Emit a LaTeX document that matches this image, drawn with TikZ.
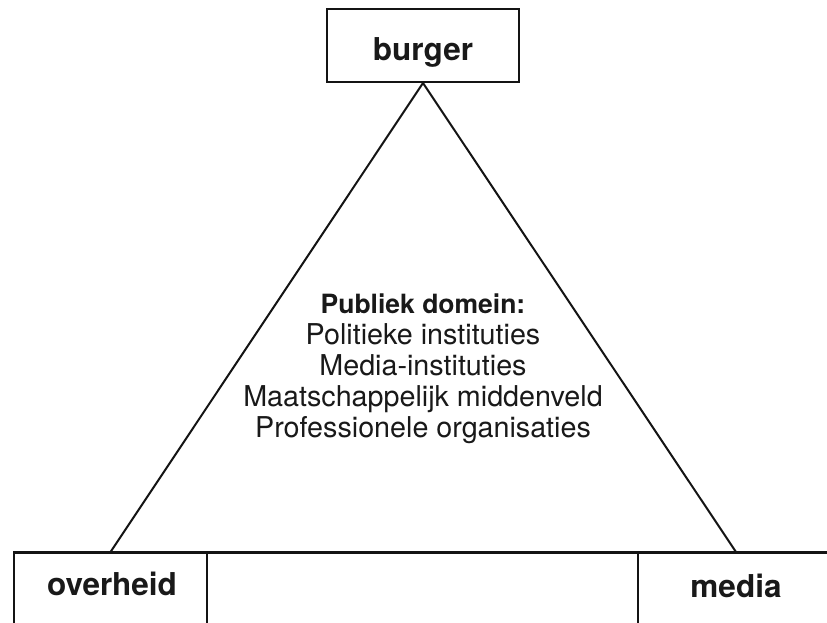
\documentclass[tikz,border=0pt]{standalone}
\usepackage{fontspec}
\setmainfont{TeX Gyre Heros}
\begin{document}
\begin{tikzpicture}[x=1pt,y=-1pt,
  frame/.style={draw=black!92, line width=2pt, inner sep=0pt},
  biglabel/.style={font=\fontsize{31.5}{36}\selectfont\bfseries, text=black!90, inner sep=0pt, anchor=base},
  body/.style={font=\fontsize{28.7}{31}\selectfont, text=black!90, align=center, inner sep=0pt},
  edge/.style={draw=black!92, line width=2pt}]
\useasboundingbox (0,0) rectangle (827,622);
\clip (0,0) rectangle (827,622);
% top box
\node[frame, minimum width=192pt, minimum height=73pt] (burger) at (423,45.5) {};
\node[biglabel] (burgerlbl) at (423,60) {burger};
% bottom boxes
\node[frame, minimum width=193pt, minimum height=120pt, anchor=north] (overheid) at (110.5,552) {};
\node[biglabel] (overheidlbl) at (112,595) {overheid};
\node[frame, minimum width=196pt, minimum height=120pt, anchor=north] (media) at (736,552) {};
\node[biglabel] (medialbl) at (736,597) {media};
% base line
\draw[edge, line width=3pt] (overheid.north west) -- (media.north east);
% triangle
\draw[edge] (overheid.north) -- (burger.south) -- (media.north);
% body text
\node[body] (domein) at (423,368.5) {{\fontsize{26.5}{31}\selectfont\bfseries Publiek domein:}\\Politieke instituties\\Media-instituties\\Maatschappelijk middenveld\\Professionele organisaties};
\end{tikzpicture}
\end{document}
